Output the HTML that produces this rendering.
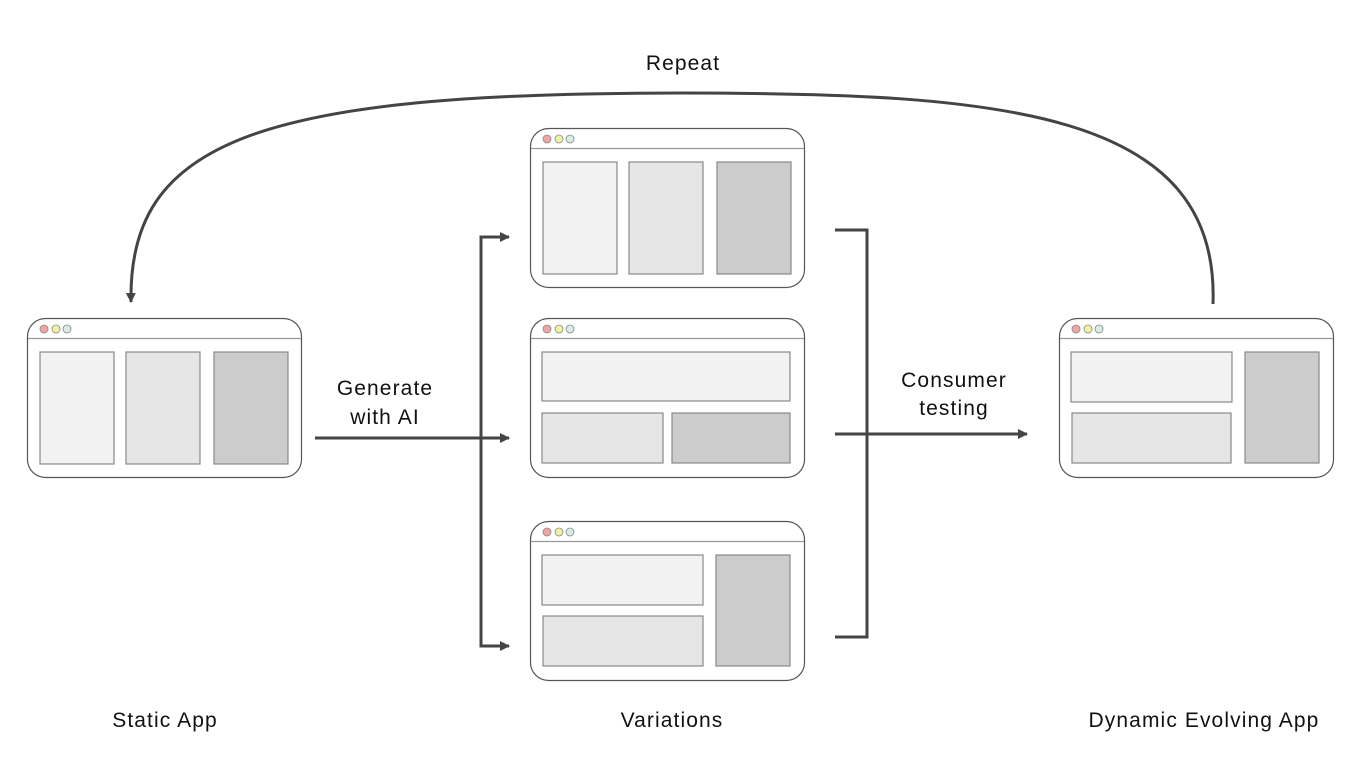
<!DOCTYPE html>
<html><head><meta charset="utf-8"><style>
html,body{margin:0;padding:0;background:#fff;}
svg{display:block;}
text{font-family:"Liberation Sans",sans-serif;font-size:21px;letter-spacing:1.1px;fill:#111;}
</style></head><body>
<svg width="1366" height="768" viewBox="0 0 1366 768">
<defs>
<marker id="ah" markerWidth="12" markerHeight="12" refX="9" refY="6" orient="auto" markerUnits="userSpaceOnUse">
<path d="M0,1 L10,6 L0,11 z" fill="#444"/>
</marker>
<g id="win">
<rect x="0.5" y="0.5" width="274" height="159" rx="18" fill="#fff" stroke="#555" stroke-width="1.2"/>
<line x1="1" y1="20.5" x2="274" y2="20.5" stroke="#999" stroke-width="1.2"/>
<circle cx="17" cy="11" r="4" fill="#f2a3a3" stroke="#888" stroke-width="0.8"/>
<circle cx="29" cy="11" r="4" fill="#f2f2a3" stroke="#888" stroke-width="0.8"/>
<circle cx="40" cy="11" r="4" fill="#d6ece6" stroke="#888" stroke-width="0.8"/>
</g>
</defs>
<g stroke="#888" stroke-width="1.2">
<use href="#win" x="27" y="318"/>
<rect x="40" y="352" width="74" height="112" fill="#f2f2f2"/>
<rect x="126" y="352" width="74" height="112" fill="#e6e6e6"/>
<rect x="214" y="352" width="74" height="112" fill="#cccccc"/>

<use href="#win" x="530" y="128"/>
<rect x="543" y="162" width="74" height="112" fill="#f2f2f2"/>
<rect x="629" y="162" width="74" height="112" fill="#e6e6e6"/>
<rect x="717" y="162" width="74" height="112" fill="#cccccc"/>

<use href="#win" x="530" y="318"/>
<rect x="542" y="352" width="248" height="49" fill="#f2f2f2"/>
<rect x="542" y="413" width="121" height="50" fill="#e6e6e6"/>
<rect x="672" y="413" width="118" height="50" fill="#cccccc"/>

<use href="#win" x="530" y="521"/>
<rect x="542" y="555" width="161" height="50" fill="#f2f2f2"/>
<rect x="543" y="616" width="160" height="50" fill="#e6e6e6"/>
<rect x="716" y="555" width="74" height="111" fill="#cccccc"/>

<use href="#win" x="1059" y="318"/>
<rect x="1071" y="352" width="161" height="50" fill="#f2f2f2"/>
<rect x="1072" y="413" width="159" height="50" fill="#e6e6e6"/>
<rect x="1245" y="352" width="74" height="111" fill="#cccccc"/>
</g>
<g stroke="#444" stroke-width="3" fill="none">
<line x1="315" y1="438" x2="509" y2="438" marker-end="url(#ah)"/>
<polyline points="505,237 481,237 481,646 505,646" stroke-linejoin="miter"/>
<line x1="495" y1="237" x2="509" y2="237" marker-end="url(#ah)"/>
<line x1="495" y1="646" x2="509" y2="646" marker-end="url(#ah)"/>
<polyline points="835,230 867,230 867,637 835,637"/>
<line x1="835" y1="434" x2="1027" y2="434" marker-end="url(#ah)"/>
<path d="M1213,304 C1220,110 1000,93 680,93 C260,93 128,140 131,302" marker-end="url(#ah)"/>
</g>
<text x="683" y="70" text-anchor="middle">Repeat</text>
<text x="385" y="395" text-anchor="middle">Generate</text>
<text x="385" y="424" text-anchor="middle">with AI</text>
<text x="954" y="387" text-anchor="middle">Consumer</text>
<text x="954" y="415" text-anchor="middle">testing</text>
<text x="165" y="727" text-anchor="middle">Static App</text>
<text x="672" y="727" text-anchor="middle">Variations</text>
<text x="1204" y="727" text-anchor="middle">Dynamic Evolving App</text>
</svg>
</body></html>
